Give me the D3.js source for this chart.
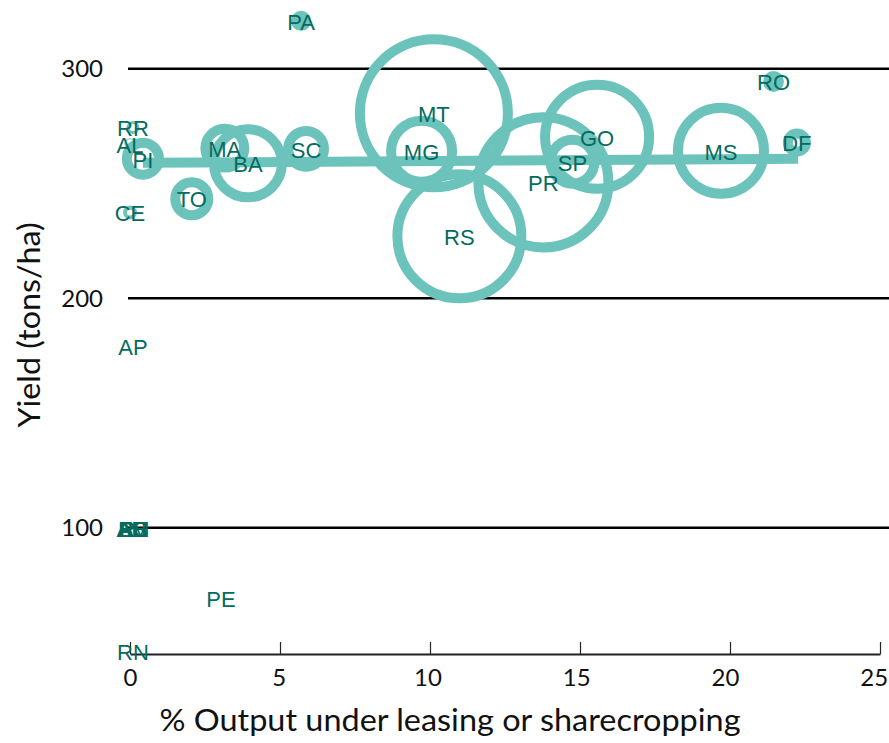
<!DOCTYPE html>
<html>
<head>
<meta charset="utf-8">
<script src="https://cdn.jsdelivr.net/npm/d3@7"></script>
<style>
  body { margin: 0; background: #fff; }
  svg { display: block; }
</style>
</head>
<body>
<div id="chart"></div>
<script>
// states, % output under leasing/sharecropping, yield (tons/ha), relative output (bubble area)
var states = ["PA","RO","DF","RR","AL","PI","MA","BA","SC","TO","CE","MT","MG","RS","PR","SP","GO","MS","AP","AC","AM","ES","PB","RJ","SE","PE","RN"];
var leasePct = [5.7,21.45,22.23,0.1,0.0,0.43,3.16,3.93,5.87,2.06,0.0,10.13,9.72,10.98,13.78,14.75,15.57,19.7,0.1,0.1,0.1,0.1,0.1,0.1,0.1,3.03,0.1];
var yieldVal = [320.9,294.5,267.8,274.4,267.3,260.8,265.4,258.8,265.1,243.4,237.4,280.6,264.1,227.0,250.5,259.5,270.4,264.3,178.9,100,100,100,100,100,100,69.1,46.4];
var output = [0.46,0.55,1.5,0.04,0.005,4.7,6.9,21.1,5.9,5.0,0.07,100,17.0,70.2,77.2,8.8,49.4,33.8,0,0,0,0,0,0,0,0,0];

// fitted line end points
var trendX = [0.43, 22.27];
var trendY = [259.0, 260.8];

var xTicks = [0, 5, 10, 15, 20, 25];
var yTicks = [100, 200, 300];

var width = 889, height = 743;
var teal = "#6cc3bb", darkTeal = "#046b60";
var axisFont = "Lato, 'Open Sans', sans-serif";

var svg = d3.select("#chart").append("svg")
  .attr("width", width)
  .attr("height", height);

var x = d3.scaleLinear().domain([0, 25]).range([130, 880]);
var y = d3.scaleLinear().domain([45, 325]).range([654, 11.4]);
var r = d3.scaleSqrt().domain([0, 100]).range([0, 74]);

// horizontal gridlines
svg.append("g")
  .selectAll("line")
  .data(yTicks)
  .enter().append("line")
  .attr("x1", 128)
  .attr("x2", width)
  .attr("y1", function(d) { return y(d); })
  .attr("y2", function(d) { return y(d); })
  .attr("stroke", "#000")
  .attr("stroke-width", 2.5);

// y tick labels
svg.append("g")
  .selectAll("text")
  .data(yTicks)
  .enter().append("text")
  .attr("x", 103)
  .attr("y", function(d) { return y(d); })
  .attr("dy", "0.35em")
  .attr("text-anchor", "end")
  .attr("font-family", axisFont)
  .attr("font-size", 24)
  .attr("fill", "#111")
  .text(function(d) { return d; });

// x axis
var xAxis = svg.append("g")
  .attr("transform", "translate(0,654)")
  .call(d3.axisBottom(x).tickValues(xTicks).tickSizeInner(-12).tickSizeOuter(0).tickPadding(15));
xAxis.select(".domain").attr("stroke", "#222").attr("stroke-width", 2);
xAxis.selectAll(".tick line").attr("stroke", "#222").attr("stroke-width", 1.2);
xAxis.selectAll(".tick text")
  .attr("x", function(d) { return -d / 4; })
  .attr("font-family", axisFont)
  .attr("font-size", 24)
  .attr("fill", "#111");

// axis titles
svg.append("text")
  .attr("x", 450)
  .attr("y", 731)
  .attr("text-anchor", "middle")
  .attr("font-family", axisFont)
  .attr("font-size", 30)
  .attr("fill", "#111")
  .attr("textLength", 581)
  .attr("lengthAdjust", "spacingAndGlyphs")
  .text("% Output under leasing or sharecropping");

svg.append("text")
  .attr("transform", "translate(40,325) rotate(-90)")
  .attr("text-anchor", "middle")
  .attr("font-family", axisFont)
  .attr("font-size", 30)
  .attr("fill", "#111")
  .attr("textLength", 205)
  .attr("lengthAdjust", "spacingAndGlyphs")
  .text("Yield (tons/ha)");

var pts = states.map(function(s, i) {
  return {state: s, x: leasePct[i], y: yieldVal[i], v: output[i]};
});

// bubbles
svg.append("g")
  .selectAll("circle")
  .data(pts.filter(function(d) { return d.v > 0; }))
  .enter().append("circle")
  .attr("cx", function(d) { return x(d.x); })
  .attr("cy", function(d) { return y(d.y); })
  .attr("r", function(d) { return r(d.v); })
  .attr("fill", "none")
  .attr("stroke", teal)
  .attr("stroke-width", 10);

// trend line
svg.append("line")
  .attr("x1", x(trendX[0]))
  .attr("y1", y(trendY[0]))
  .attr("x2", x(trendX[1]))
  .attr("y2", y(trendY[1]))
  .attr("stroke", teal)
  .attr("stroke-width", 10);

// state labels
svg.append("g")
  .selectAll("text")
  .data(pts)
  .enter().append("text")
  .attr("x", function(d) { return x(d.x); })
  .attr("y", function(d) { return y(d.y); })
  .attr("dy", "0.4em")
  .attr("text-anchor", "middle")
  .attr("font-family", "'Liberation Sans', Arial, sans-serif")
  .attr("font-size", 22)
  .attr("fill", darkTeal)
  .text(function(d) { return d.state; });
</script>
</body>
</html>
